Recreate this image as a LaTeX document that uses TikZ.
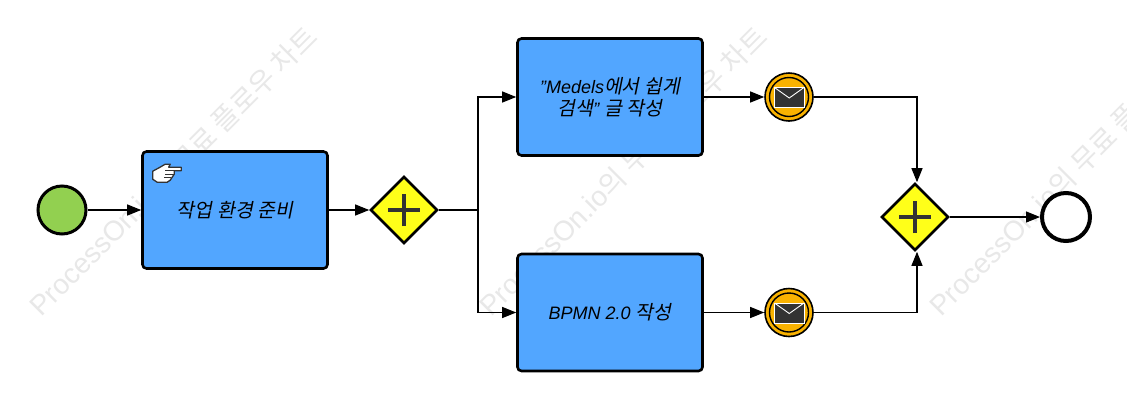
\documentclass[tikz,border=0pt]{standalone}
\usepackage{fontspec}
\setmainfont{Liberation Sans}
\newfontfamily\krit[FakeSlant=0.2,Scale=1.08]{Noto Sans CJK KR}
\newfontfamily\krplain{Noto Sans CJK KR}
\usetikzlibrary{shapes.geometric,arrows.meta}
\definecolor{taskblue}{HTML}{52A6FF}
\definecolor{startgreen}{HTML}{92D050}
\definecolor{gateyellow}{HTML}{FFFF19}
\definecolor{msgorange}{HTML}{F9B200}
\definecolor{wmgrey}{HTML}{E8E8E8}
\definecolor{markgrey}{HTML}{333333}
\tikzset{
  x=1pt,y=-1pt,
  flow/.style={draw=black,line width=1.1pt,-{Stealth[inset=0pt,length=14pt,width=11pt]}},
  taskbox/.style={draw=black,line width=2.6pt,fill=taskblue,rounded corners=4pt,minimum width=185pt,minimum height=117pt,inner sep=2pt,align=center,font=\fontsize{18}{22}\selectfont\itshape},
  gate/.style={draw=black,line width=2.6pt,fill=gateyellow,diamond,aspect=1,minimum width=67pt,minimum height=67pt,inner sep=0pt},
  startev/.style={draw=black,line width=3pt,fill=startgreen,circle,minimum size=48pt,inner sep=0pt},
  endev/.style={draw=black,line width=4pt,fill=white,circle,minimum size=48pt,inner sep=0pt},
  msgev/.style={draw=black,line width=1.6pt,fill=msgorange,circle,minimum size=48pt,inner sep=0pt},
  wmark/.style={rotate=45,anchor=west,text=wmgrey,inner sep=0pt,font=\fontsize{28}{28}\selectfont},
  plusmark/.style={draw=markgrey,line width=4.6pt},
}
\newcommand{\kt}[1]{{\krit #1}}
\begin{document}
\begin{tikzpicture}
\path[clip,use as bounding box] (0,0) rectangle (1127,408);
\fill[white] (0,0) rectangle (1127,408);
\foreach \wx/\wn in {34/wa,484/wb,934/wc}
  \node[wmark] (\wn) at (\wx,310) {ProcessOn.io{\krplain 의 무료 플로우 차트}};

\node[startev] (start) at (62,210) {};
\node[taskbox] (t1) at (235,210) {\kt{작업 환경 준비}};
\node[gate] (g1) at (404,210) {};
\node[taskbox] (t2) at (610,97) {"Medels\kt{에서 쉽게}\\\kt{검색}" \kt{글 작성}};
\node[taskbox] (t3) at (610,312.5) {BPMN 2.0 \kt{작성}};
\node[msgev] (m1) at (789,97) {};
\node[msgev] (m2) at (789,312.5) {};
\node[gate] (g2) at (915,217) {};
\node[endev] (e1) at (1066,217) {};

\coordinate (split) at (478,210);
\coordinate (c1) at (917,97);
\coordinate (c2) at (917,312.5);

% gateway plus marks
\foreach \g in {g1,g2} {
  \draw[plusmark] ([xshift=-16pt]\g.center) -- ([xshift=16pt]\g.center);
  \draw[plusmark] ([yshift=-16pt]\g.center) -- ([yshift=16pt]\g.center);
}
% message rings and envelopes
\foreach \m in {m1,m2} {
  \draw[black,line width=1.4pt] (\m.center) circle (19.5pt);
  \draw[white,line width=0.9pt,fill=markgrey] ([xshift=-14.5pt,yshift=9.5pt]\m.center) rectangle ([xshift=15pt,yshift=-10.5pt]\m.center);
  \draw[white,line width=0.9pt] ([xshift=-14.5pt,yshift=9.5pt]\m.center) -- ([xshift=.25pt,yshift=-1pt]\m.center) -- ([xshift=15pt,yshift=9.5pt]\m.center);
}
% manual task hand icon
\begin{scope}[shift={(t1.north west)},line join=round]
  \draw[draw=markgrey,line width=1.3pt,fill=white] (11.5,21) -- (18,17.5) -- (24,14) -- (29,14) -- (27.5,17) -- (40,17) -- (40,20.5) -- (33,20.5) -- (33,24) -- (31,27) -- (29,30) -- (26,32) -- (16,32) -- (11.5,29) -- cycle;
  \draw[draw=markgrey,line width=.8pt] (24,20.5) -- (33,20.5) (24,24) -- (33,24) (23,27.5) -- (30,27.5);
\end{scope}

\draw[flow] (start) -- (t1);
\draw[flow] (t1) -- (g1);
\draw[line width=1.1pt] (g1) -- (split);
\draw[flow] (split) |- (t2);
\draw[flow] (split) |- (t3);
\draw[flow] (t2) -- (m1);
\draw[flow] (t3) -- (m2);
\draw[flow] (m1) -- (c1) -- (c1 |- g2.north);
\draw[flow] (m2) -- (c2) -- (c2 |- g2.south);
\draw[flow] (g2) -- (e1);
\end{tikzpicture}
\end{document}
